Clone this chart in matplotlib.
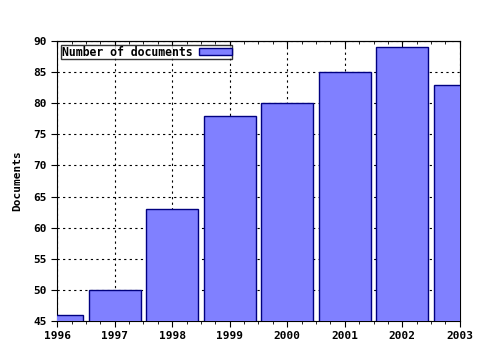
import numpy as np
import matplotlib
matplotlib.use("Agg")
import matplotlib.pyplot as plt
from matplotlib.ticker import MultipleLocator

years = [1996, 1997, 1998, 1999, 2000, 2001, 2002, 2003]
documents = [46, 50, 63, 78, 80, 85, 89, 83]

plt.rcParams['font.family'] = ['DejaVu Sans Mono']
plt.rcParams['font.weight'] = 'bold'
plt.rcParams['font.size'] = 8

fig = plt.figure(figsize=(4.8, 3.5), dpi=100)
ax = fig.add_axes([0.119, 0.083, 0.839, 0.80])

ax.bar(years, documents, width=0.9, bottom=0, color="#8080ff",
       edgecolor="#000080", linewidth=1.0, label="Number of documents", zorder=3)

ax.set_xlim(1996, 2003)
ax.set_ylim(45, 90)
ax.xaxis.set_major_locator(MultipleLocator(1))
ax.xaxis.set_minor_locator(MultipleLocator(0.25))
ax.yaxis.set_major_locator(MultipleLocator(5))
ax.tick_params(axis='x', which='both', direction='out', top=False)
ax.tick_params(axis='x', which='major', length=4)
ax.tick_params(axis='x', which='minor', length=2)
ax.tick_params(axis='y', direction='out', length=4)
ax.grid(True, which='major', color='black', linestyle=(0, (2, 3)), linewidth=0.8, zorder=1)
for lbl in ax.get_xticklabels() + ax.get_yticklabels():
    lbl.set_fontweight('bold')

# top axis: ticks pointing into the plot, no labels
top = ax.secondary_xaxis('top')
top.xaxis.set_major_locator(MultipleLocator(1))
top.xaxis.set_minor_locator(MultipleLocator(0.25))
top.tick_params(axis='x', which='both', direction='in', labeltop=False)
top.tick_params(axis='x', which='major', length=4)
top.tick_params(axis='x', which='minor', length=2)

ax.set_ylabel("Documents", fontweight='bold', labelpad=8)

leg = ax.legend(loc='upper left', markerfirst=False, frameon=True, fancybox=False,
                borderpad=0.05, handlelength=2.8, handleheight=0.5, handletextpad=0.6,
                borderaxespad=0.35, prop={'weight': 'bold', 'size': 8.3})
leg.get_frame().set_edgecolor('black')
leg.get_frame().set_linewidth(1.0)
leg.set_zorder(5)

fig.savefig("out.png", dpi=100)
